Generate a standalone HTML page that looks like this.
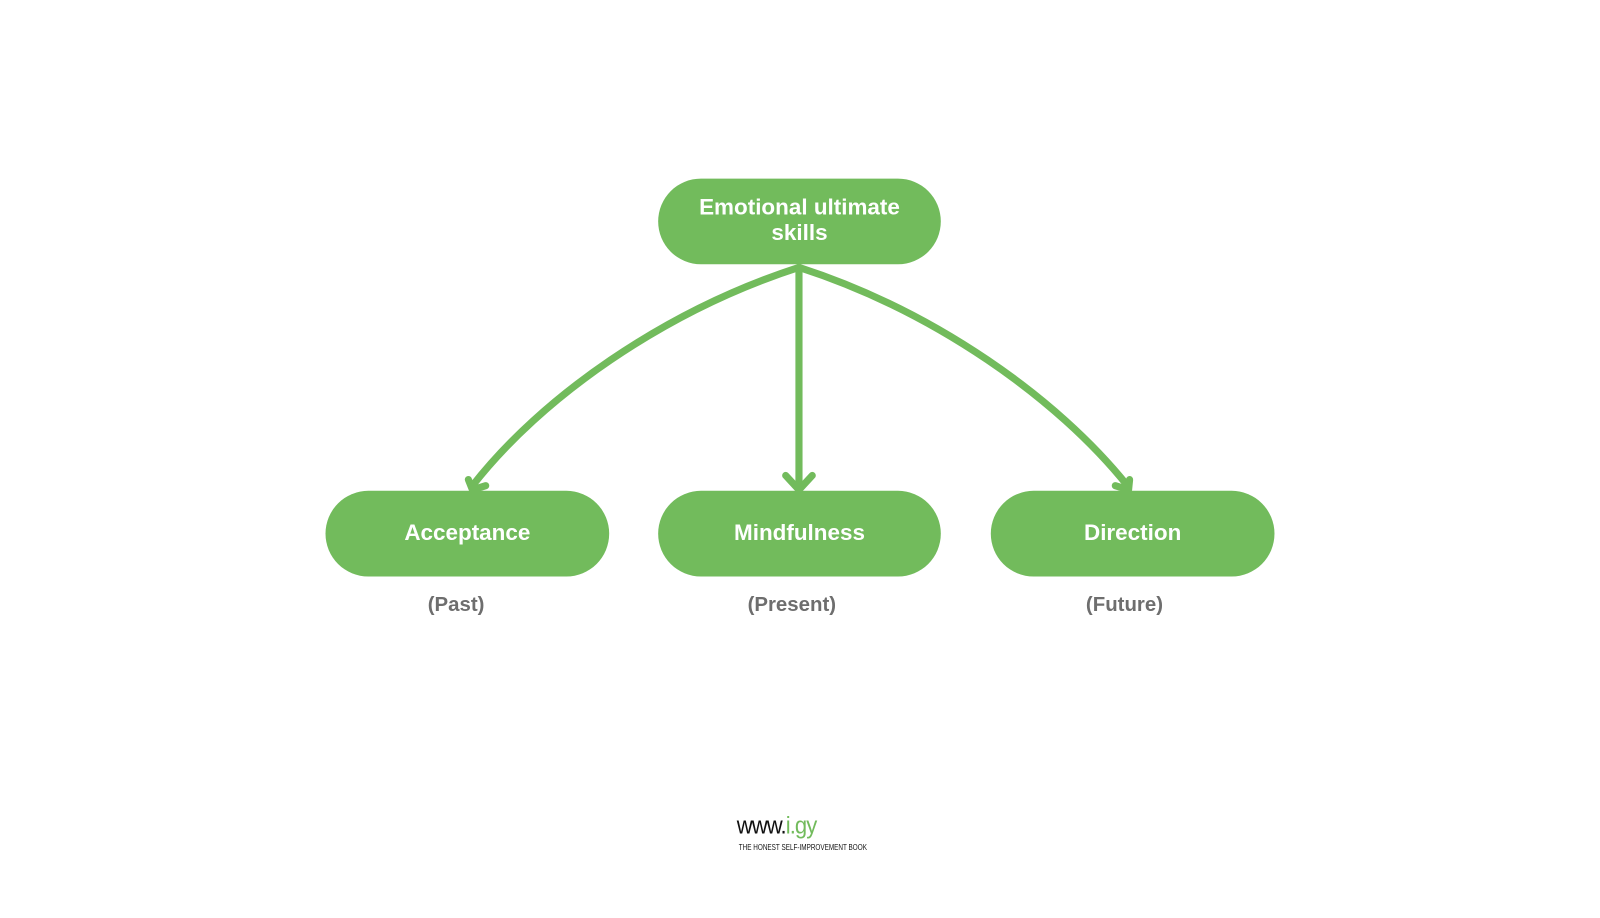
<!DOCTYPE html>
<html><head><style>
body{margin:0;width:1600px;height:900px;background:#fff;overflow:hidden;font-family:"Liberation Sans",sans-serif;}
#w{position:absolute;left:0;top:0;width:1568px;height:882px;transform:scale(1.0204);transform-origin:0 0;}
.n{position:absolute;background:#72bb5c;border-radius:43px;color:#fff;font-weight:bold;font-size:22px;display:flex;align-items:center;justify-content:center;text-align:center;line-height:25px;padding-bottom:4px;box-sizing:border-box;}
.l{position:absolute;color:#6e6e6e;font-weight:bold;font-size:20px;width:200px;text-align:center;}
</style></head><body><div id="w">
<svg width="1600" height="900" style="position:absolute;left:0;top:0">
<g fill="none" stroke="#72bb5c" stroke-width="7" stroke-linecap="round" stroke-linejoin="round">
<path d="M783,262 C650,305 530,390 463,476"/>
<path d="M783,262 L783,478"/>
<path d="M783,262 C916,305 1036,390 1105,476"/>
<path d="M459,470 L463,480 L476,476"/>
<path d="M770,466 L783,480 L796,466"/>
<path d="M1107,470 L1106,480 L1093,476"/>
</g>
</svg>
<div class="n" style="left:645px;top:175px;width:277px;height:84px">Emotional ultimate<br>skills</div>
<div class="n" style="left:319px;top:481px;width:278px;height:84px">Acceptance</div>
<div class="n" style="left:645px;top:481px;width:277px;height:84px">Mindfulness</div>
<div class="n" style="left:971px;top:481px;width:278px;height:84px">Direction</div>
<div class="l" style="left:347px;top:582px">(Past)</div>
<div class="l" style="left:676px;top:582px">(Present)</div>
<div class="l" style="left:1002px;top:582px">(Future)</div>
<div style="position:absolute;left:722px;top:796px;font-size:24px;color:#111;letter-spacing:-1px;transform:scaleX(0.9);transform-origin:left">www.<span style="color:#72bb5c">i.gy</span></div>
<div style="position:absolute;left:724px;top:826px;font-size:8px;color:#111;transform:scaleX(0.78);transform-origin:left">THE HONEST SELF-IMPROVEMENT BOOK</div>
</div></body></html>
